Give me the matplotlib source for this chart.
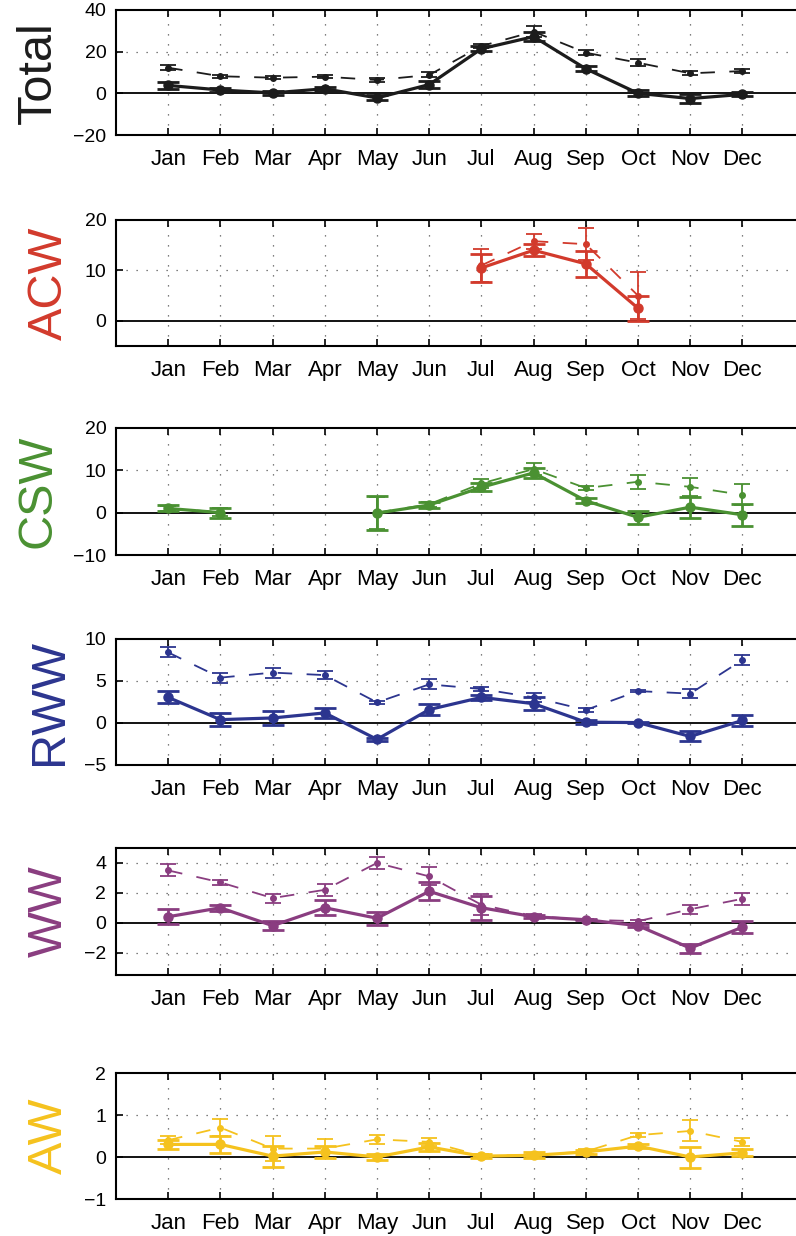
import numpy as np
import matplotlib
matplotlib.use("Agg")
import matplotlib.pyplot as plt

plt.rcParams['font.family'] = ['Liberation Sans', 'DejaVu Sans']

months = ['Jan', 'Feb', 'Mar', 'Apr', 'May', 'Jun', 'Jul', 'Aug', 'Sep', 'Oct', 'Nov', 'Dec']
nan = np.nan

# Total
total_solid = [3.8, 1.6, 0.2, 2.2, -2.2, 4.2, 21.4, 27.2, 11.8, 0.0, -2.5, -0.5]
total_solid_err = [1.5, 1.0, 1.0, 1.0, 1.2, 1.5, 1.2, 2.0, 1.2, 1.5, 2.2, 1.0]
total_dash = [12.3, 8.2, 7.5, 8.0, 6.4, 8.8, 22.7, 29.6, 19.5, 14.7, 9.6, 10.7]
total_dash_err = [1.2, 0.8, 0.8, 0.8, 0.8, 1.2, 1.0, 2.5, 1.2, 1.8, 1.0, 0.8]

# ACW
acw_solid = [nan, nan, nan, nan, nan, nan, 10.5, 14.0, 11.3, 2.5, nan, nan]
acw_solid_err = [nan, nan, nan, nan, nan, nan, 2.8, 1.2, 2.6, 2.5, nan, nan]
acw_dash = [nan, nan, nan, nan, nan, nan, 11.0, 15.8, 15.2, 5.0, nan, nan]
acw_dash_err = [nan, nan, nan, nan, nan, nan, 3.3, 1.5, 3.2, 4.7, nan, nan]

# CSW
csw_solid = [1.0, 0.0, nan, nan, -0.1, 1.8, 6.0, 9.4, 2.8, -1.1, 1.3, -0.5]
csw_solid_err = [0.7, 1.2, nan, nan, 4.0, 0.8, 1.0, 1.2, 0.6, 1.5, 2.5, 2.6]
csw_dash = [1.0, 0.1, nan, nan, 0.0, 2.0, 6.9, 10.3, 5.8, 7.3, 6.1, 4.2]
csw_dash_err = [0.6, 1.0, nan, nan, 3.8, 0.6, 1.0, 1.5, 0.5, 1.6, 2.2, 2.5]

# RWW
rww_solid = [3.05, 0.4, 0.6, 1.2, -1.95, 1.6, 3.05, 2.3, 0.1, 0.05, -1.6, 0.3]
rww_solid_err = [0.7, 0.8, 0.8, 0.6, 0.15, 0.7, 0.3, 0.8, 0.2, 0.1, 0.6, 0.6]
rww_dash = [8.4, 5.4, 6.0, 5.7, 2.45, 4.6, 4.05, 3.05, 1.55, 3.8, 3.5, 7.5]
rww_dash_err = [0.6, 0.6, 0.6, 0.5, 0.15, 0.6, 0.2, 0.5, 0.2, 0.1, 0.5, 0.6]

# WW
ww_solid = [0.4, 1.0, -0.2, 1.0, 0.3, 2.1, 1.0, 0.4, 0.2, -0.2, -1.7, -0.3]
ww_solid_err = [0.5, 0.2, 0.3, 0.5, 0.45, 0.6, 0.8, 0.1, 0.05, 0.1, 0.3, 0.4]
ww_dash = [3.5, 2.7, 1.65, 2.2, 4.0, 3.1, 1.2, 0.45, 0.2, 0.1, 0.9, 1.6]
ww_dash_err = [0.4, 0.15, 0.3, 0.4, 0.4, 0.6, 0.7, 0.1, 0.05, 0.1, 0.3, 0.4]

# AW
aw_solid = [0.3, 0.3, 0.02, 0.12, 0.0, 0.24, 0.02, 0.04, 0.12, 0.26, 0.0, 0.1]
aw_solid_err = [0.1, 0.2, 0.25, 0.15, 0.08, 0.1, 0.05, 0.07, 0.05, 0.05, 0.25, 0.08]
aw_dash = [0.4, 0.7, 0.2, 0.2, 0.42, 0.36, 0.03, 0.05, 0.13, 0.52, 0.62, 0.36]
aw_dash_err = [0.1, 0.2, 0.3, 0.22, 0.1, 0.1, 0.03, 0.05, 0.05, 0.05, 0.25, 0.1]

panels = [
    ('Total', '#1c1c1c', (-20, 40), [-20, 0, 20, 40], total_solid, total_solid_err, total_dash, total_dash_err),
    ('ACW', '#d23a2c', (-5, 20), [0, 10, 20], acw_solid, acw_solid_err, acw_dash, acw_dash_err),
    ('CSW', '#4a9132', (-10, 20), [-10, 0, 10, 20], csw_solid, csw_solid_err, csw_dash, csw_dash_err),
    ('RWW', '#2c358f', (-5, 10), [-5, 0, 5, 10], rww_solid, rww_solid_err, rww_dash, rww_dash_err),
    ('WW', '#8a3d80', (-3.5, 5), [-2, 0, 2, 4], ww_solid, ww_solid_err, ww_dash, ww_dash_err),
    ('AW', '#f5c21e', (-1, 2), [-1, 0, 1, 2], aw_solid, aw_solid_err, aw_dash, aw_dash_err),
]

W, H = 796, 1236
fig = plt.figure(figsize=(W / 100, H / 100), dpi=100)

ybounds = [(10, 135), (220, 346), (428, 555), (639, 765), (848, 975), (1073, 1199)]
left_px, right_px = 116, 802
x = np.arange(1, 13)

for (name, color, ylim, yticks, s, se, d, de), (top, bot) in zip(panels, ybounds):
    ax = fig.add_axes([left_px / W, 1 - bot / H, (right_px - left_px) / W, (bot - top) / H])
    ax.set_xlim(0, (right_px - left_px) / 52.2)
    ax.set_ylim(*ylim)
    # grid
    for xi in x:
        ax.axvline(xi, color='#555555', lw=0.9, ls=(0, (1, 7)), zorder=0)
    for yt in yticks:
        if yt not in (0, ylim[0], ylim[1]):
            ax.axhline(yt, color='#555555', lw=0.9, ls=(0, (1, 7)), zorder=0)
    ax.axhline(0, color='black', lw=1.3, zorder=1)

    ax.errorbar(x, d, yerr=de, color=color, lw=1.3, ls=(0, (8, 8)), marker='o', ms=4,
                capsize=6, elinewidth=1.3, capthick=1.3, zorder=3)
    ax.errorbar(x, s, yerr=se, color=color, lw=2.3, ls='-', marker='o', ms=6.5,
                capsize=8, elinewidth=2.0, capthick=2.0, zorder=4)

    ax.set_xticks(x)
    ax.set_xticklabels(months, fontsize=16)
    ax.set_yticks(yticks)
    ax.set_yticklabels([('\u2212' + str(abs(v))) if v < 0 else str(v) for v in yticks], fontsize=14)
    ax.tick_params(axis='x', direction='in', top=True, bottom=True, length=5, width=1.2, pad=10)
    ax.tick_params(axis='y', direction='in', left=True, right=False, length=5, width=1.2, pad=7)
    for sp in ['top', 'bottom', 'left']:
        ax.spines[sp].set_linewidth(1.5)
    ax.spines['right'].set_visible(False)
    ax.set_ylabel(name, color=color, fontsize=35, labelpad=9)

fig.savefig('out.png', dpi=100)
